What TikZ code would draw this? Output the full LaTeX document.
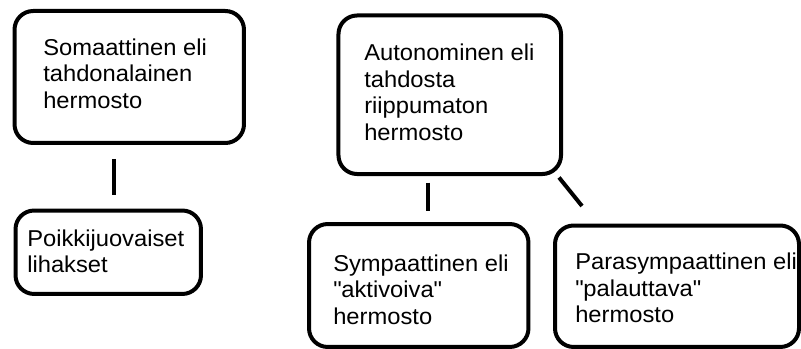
\documentclass[tikz,border=0pt]{standalone}
\usepackage{fontspec}
\setmainfont{Liberation Sans}[FakeStretch=1.035]
\begin{document}
\begin{tikzpicture}[x=0.75pt,y=-0.75pt,
  box/.style={draw=black, line width=3pt, rounded corners=14pt, inner sep=0pt, fill=none},
  txt/.style={anchor=north west, inner sep=0pt, align=left, text=black,
    font={\fontsize{17.2pt}{19.9pt}\selectfont}},
  conn/.style={draw=black, line width=3pt}]
\useasboundingbox[fill=white] (0,0) rectangle (801,349);
% boxes
\node[box, minimum width=172.1pt, minimum height=99pt]   (A) at (129.25,77) {};
\node[box, minimum width=139.1pt, minimum height=62.6pt] (B) at (108.25,252.25) {};
\node[box, minimum width=166.9pt, minimum height=118.9pt] (C) at (449.75,94.75) {};
\node[box, minimum width=164.6pt, minimum height=92.2pt] (D) at (418.75,285.5) {};
\node[box, minimum width=183pt, minimum height=91.1pt]   (E) at (677,286.25) {};
% texts
\node[txt] (tA) at (43,38.5) {Somaattinen eli\\tahdonalainen\\hermosto};
\node[txt] (tB) at (27,229.5) {Poikkijuovaiset\\lihakset};
\node[txt] (tC) at (364,44) {Autonominen eli\\tahdosta\\riippumaton\\hermosto};
\node[txt] (tD) at (333,254.5) {Sympaattinen eli\\\textquotedbl aktivoiva\textquotedbl\\hermosto};
\node[txt] (tE) at (575,253) {Parasympaattinen eli\\\textquotedbl palauttava\textquotedbl\\hermosto};
% connectors
\coordinate (k1) at (114,0);
\coordinate (k2) at (428.3,0);
\draw[conn, shorten <=10.5pt, shorten >=10.1pt] (A.south -| k1) -- (B.north -| k1);
\draw[conn, shorten <=5pt, shorten >=8.5pt] (C.south -| k2) -- (D.north -| k2);
\coordinate (d1) at (559,177.5);
\coordinate (d2) at (582,206);
\draw[conn] (d1) -- (d2);
\end{tikzpicture}
\end{document}
